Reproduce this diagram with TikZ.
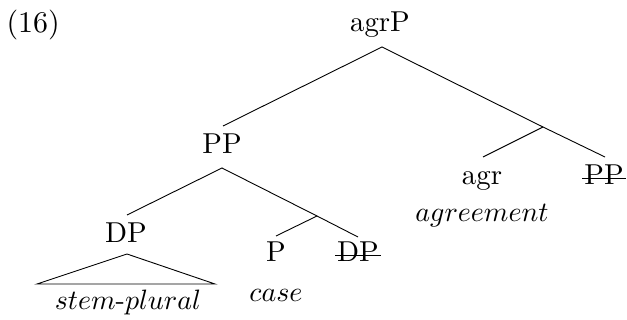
\documentclass[tikz,border=0pt]{standalone}
\begin{document}
\begin{tikzpicture}[x=1pt,y=-1pt,
  font=\fontsize{10}{12}\selectfont,
  lbl/.style={inner sep=0pt, anchor=base, scale=2.88, transform shape},
  gloss/.style={inner sep=0pt, anchor=base, scale=2.8, transform shape},
  branch/.style={line width=0.9pt, line join=miter},
  strike/.style={line width=0.9pt}]
\useasboundingbox (0,0) rectangle (627,320);

% example number
\node[lbl, anchor=base west, scale=1.04] (ex) at (6,33) {(16)};

% labels
\node[lbl] (agrP) at (380,32) {agrP};
\node[lbl] (PP) at (222,154) {PP};
\node[lbl] (agr) at (482,185) {agr};
\node[lbl] (PPcopy) at (604,185) {PP};
\node[gloss] (agrgloss) at (482,222) {$agreement$};
\node[lbl] (DP) at (126,243) {DP};
\node[lbl] (P) at (276,262) {P};
\node[lbl] (DPcopy) at (358,262) {DP};
\node[gloss] (casegloss) at (276,302) {$case$};
\node[gloss] (stem) at (128,310) {$stem$-$plural$};

% branch ends and unlabelled bar-level points
\coordinate (agrP-b) at (382,47);
\coordinate (PP-t) at (223,126);
\coordinate (agrbar) at (543,127);
\coordinate (agr-t) at (483,157);
\coordinate (PPcopy-t) at (605,157);
\coordinate (PP-b) at (222,168);
\coordinate (DP-t) at (127,215);
\coordinate (Pbar) at (317,216);
\coordinate (P-t) at (276,236);
\coordinate (DPcopy-t) at (358,237);
\coordinate (DP-b) at (127,254);
\coordinate (tri-l) at (37,284);
\coordinate (tri-r) at (215,284);

% tree
\draw[branch] (PP-t) -- (agrP-b) -- (agrbar) -- (PPcopy-t);
\draw[branch] (agrbar) -- (agr-t);
\draw[branch] (DP-t) -- (PP-b) -- (Pbar) -- (DPcopy-t);
\draw[branch] (Pbar) -- (P-t);
\draw[branch] (DP-b) -- (tri-l) -- (tri-r) -- cycle;

% deleted copies
\draw[strike] ([xshift=-1.5pt,yshift=7pt]PPcopy.base west) -- ([xshift=1.5pt,yshift=7pt]PPcopy.base east);
\draw[strike] ([xshift=-1.5pt,yshift=7pt]DPcopy.base west) -- ([xshift=1.5pt,yshift=7pt]DPcopy.base east);
\end{tikzpicture}
\end{document}
